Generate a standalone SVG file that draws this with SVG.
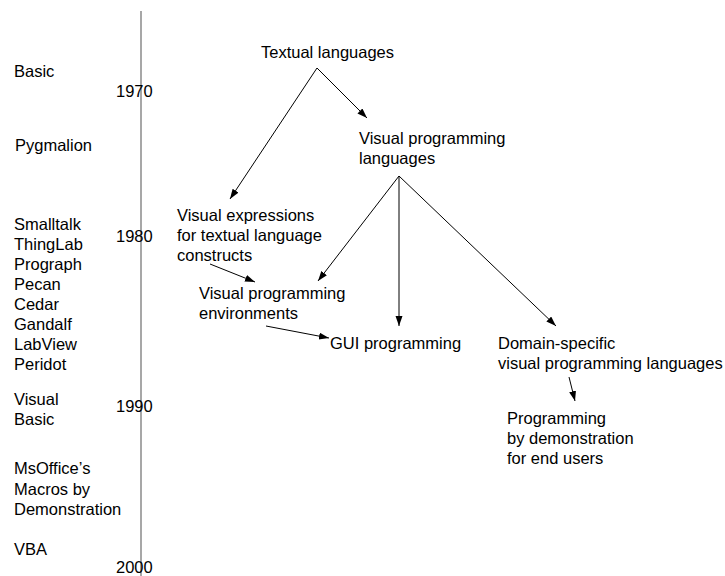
<svg xmlns="http://www.w3.org/2000/svg" width="725" height="576" viewBox="0 0 725 576">
<style>
text { font-family: "Liberation Sans", Arial, sans-serif; font-size: 16.5px; fill: #000; }
.edge { stroke: #000; stroke-width: 1; fill: none; marker-end: url(#arr); }
.axis { stroke: #8a8a8a; stroke-width: 1.5; }
</style>
<defs>
<marker id="arr" markerUnits="userSpaceOnUse" markerWidth="11" markerHeight="8" refX="10" refY="3.5" orient="auto">
<path d="M0,0 L10,3.5 L0,7 z" fill="#000"/>
</marker>
</defs>
<rect width="725" height="576" fill="#fff"/>
<g id="timeline">
<line class="axis" x1="141" y1="11" x2="141" y2="576"/>
<text x="116" y="97">1970</text>
<text x="116" y="242">1980</text>
<text x="116" y="412">1990</text>
<text x="116" y="573">2000</text>
</g>
<g id="languages-list">
<text x="14" y="77">Basic</text>
<text x="15" y="151">Pygmalion</text>
<text x="14" y="229.5">Smalltalk</text>
<text x="14" y="249.5">ThingLab</text>
<text x="14" y="269.5">Prograph</text>
<text x="14" y="290">Pecan</text>
<text x="14" y="310">Cedar</text>
<text x="14" y="330">Gandalf</text>
<text x="14" y="350">LabView</text>
<text x="14" y="370">Peridot</text>
<text x="14" y="405">Visual</text>
<text x="14" y="425">Basic</text>
<text x="14" y="474">MsOffice’s</text>
<text x="14" y="495">Macros by</text>
<text x="14" y="515">Demonstration</text>
<text x="14" y="555">VBA</text>
</g>
<g id="connectors">
<line class="edge" x1="317" y1="68" x2="230" y2="199"/>
<line class="edge" x1="317" y1="68" x2="367" y2="118"/>
<line class="edge" x1="399" y1="176" x2="318" y2="281"/>
<line class="edge" x1="399" y1="176" x2="399" y2="326"/>
<line class="edge" x1="399" y1="176" x2="556" y2="326"/>
<line class="edge" x1="210" y1="264" x2="255" y2="282"/>
<line class="edge" x1="266" y1="326" x2="329" y2="338"/>
<line class="edge" x1="569" y1="377" x2="575" y2="401"/>
</g>
<g id="textual-languages">
<text x="261" y="58">Textual languages</text>
</g>
<g id="visual-programming-languages">
<text x="359" y="144">Visual programming</text>
<text x="359" y="164">languages</text>
</g>
<g id="visual-expressions">
<text x="177" y="221">Visual expressions</text>
<text x="177" y="241">for textual language</text>
<text x="177" y="261">constructs</text>
</g>
<g id="visual-programming-environments">
<text x="199" y="299">Visual programming</text>
<text x="199" y="319">environments</text>
</g>
<g id="gui-programming">
<text x="330" y="349">GUI programming</text>
</g>
<g id="domain-specific">
<text x="498" y="349">Domain-specific</text>
<text x="498" y="369">visual programming languages</text>
</g>
<g id="programming-by-demonstration">
<text x="507" y="424">Programming</text>
<text x="507" y="444">by demonstration</text>
<text x="507" y="464">for end users</text>
</g>
</svg>
